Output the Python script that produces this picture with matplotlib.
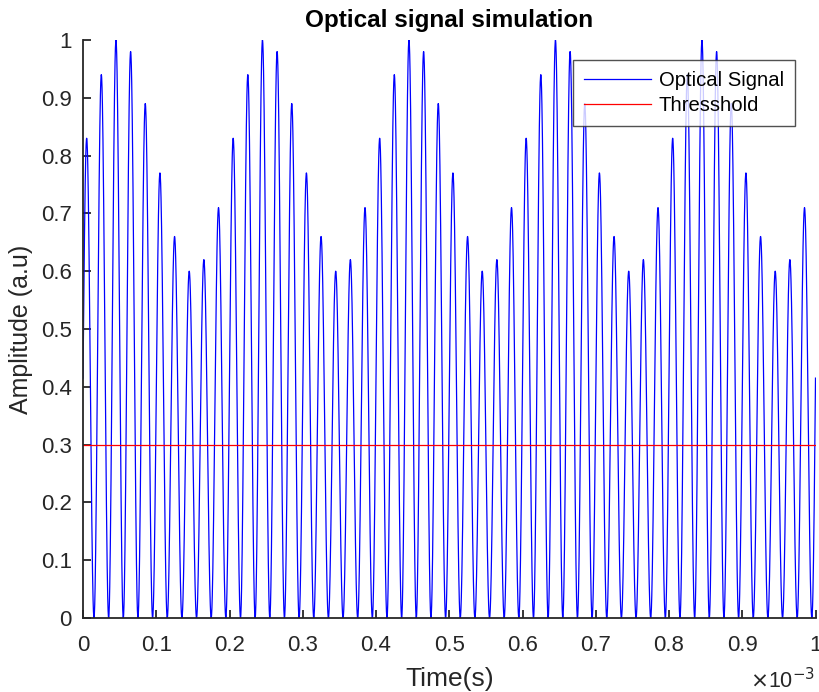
import numpy as np
import matplotlib
matplotlib.use('Agg')
import matplotlib.pyplot as plt

# Peak height of each lobe of the optical signal
# (one lobe every 0.02 ms, first peak at 0.005 ms, last one just past the end)
carrier_period = 0.02e-3
first_peak = 0.005e-3
peak_heights = [
    0.83, 0.94, 1.00, 0.98, 0.89, 0.77, 0.66, 0.60, 0.62, 0.71,
    0.83, 0.94, 1.00, 0.98, 0.89, 0.77, 0.66, 0.60, 0.62, 0.71,
    0.83, 0.94, 1.00, 0.98, 0.89, 0.77, 0.66, 0.60, 0.62, 0.71,
    0.83, 0.94, 1.00, 0.98, 0.89, 0.77, 0.66, 0.60, 0.62, 0.71,
    0.83, 0.94, 1.00, 0.98, 0.89, 0.77, 0.66, 0.60, 0.62, 0.71,
    0.83,
]
threshold = 0.3
t_start, t_end = 0.0, 1e-3
tick_labels = ['0', '0.1', '0.2', '0.3', '0.4', '0.5', '0.6', '0.7', '0.8', '0.9', '1']

# Build the trace lobe by lobe: each lobe is a raised cosine from trough to trough
lobe_phase = np.linspace(-0.5, 0.5, 81)
lobe_shape = (1 + np.cos(2 * np.pi * lobe_phase)) / 2
t_parts, y_parts = [], []
for k, h in enumerate(peak_heights):
    tk = first_peak + k * carrier_period + lobe_phase * carrier_period
    t_parts.append(tk)
    y_parts.append(h * lobe_shape)
t = np.concatenate(t_parts)
y = np.concatenate(y_parts)
keep = (t >= t_start) & (t <= t_end)
t, y = t[keep], y[keep]

plt.rcParams['font.family'] = ['Liberation Sans', 'DejaVu Sans']
fig = plt.figure(figsize=(8.19, 6.92), dpi=100)
ax = fig.add_axes([83 / 819, 1 - 618 / 692, (815.5 - 83) / 819, (618 - 40) / 692])

ax.plot(t, y, color='#0000ff', lw=0.9, label='Optical Signal')
ax.plot([t_start, t_end], [threshold, threshold], color='#ff0000', lw=0.9, label='Thresshold')

ax.set_xlim(t_start, t_end)
ax.set_ylim(0, 1)
ax.set_xticks(np.linspace(t_start, t_end, len(tick_labels)))
ax.set_xticklabels(tick_labels)
ax.set_yticks(np.linspace(0, 1, len(tick_labels)))
ax.set_yticklabels(tick_labels)

dark = '#262626'
for side in ['top', 'right']:
    ax.spines[side].set_visible(False)
for side in ['left', 'bottom']:
    ax.spines[side].set_color(dark)
    ax.spines[side].set_linewidth(1.3)
ax.tick_params(direction='in', length=5.5, width=1.3, colors=dark, labelsize=16)
ax.tick_params(axis='x', pad=12)
ax.tick_params(axis='y', pad=8)

ax.set_xlabel('Time(s)', fontsize=19, color=dark, labelpad=8)
ax.set_ylabel('Amplitude (a.u)', fontsize=18, color=dark, labelpad=6)
ax.set_title('Optical signal simulation', fontsize=17.5, fontweight='bold', pad=9)

fig.text(815 / 819, 1 - 681 / 692, r'$\times$10$^{-3}$', fontsize=15.5, color=dark,
         ha='right', va='center')

leg = ax.legend(loc='upper right', bbox_to_anchor=((795 - 83) / 732.5, (618 - 60) / 578),
                fontsize=14.6, frameon=True, fancybox=False, handlelength=3.3,
                borderpad=0.55, labelspacing=0.3, handletextpad=0.4, borderaxespad=0)
leg.get_frame().set_edgecolor(dark)
leg.get_frame().set_linewidth(1.0)

fig.savefig('out.png', dpi=100)
